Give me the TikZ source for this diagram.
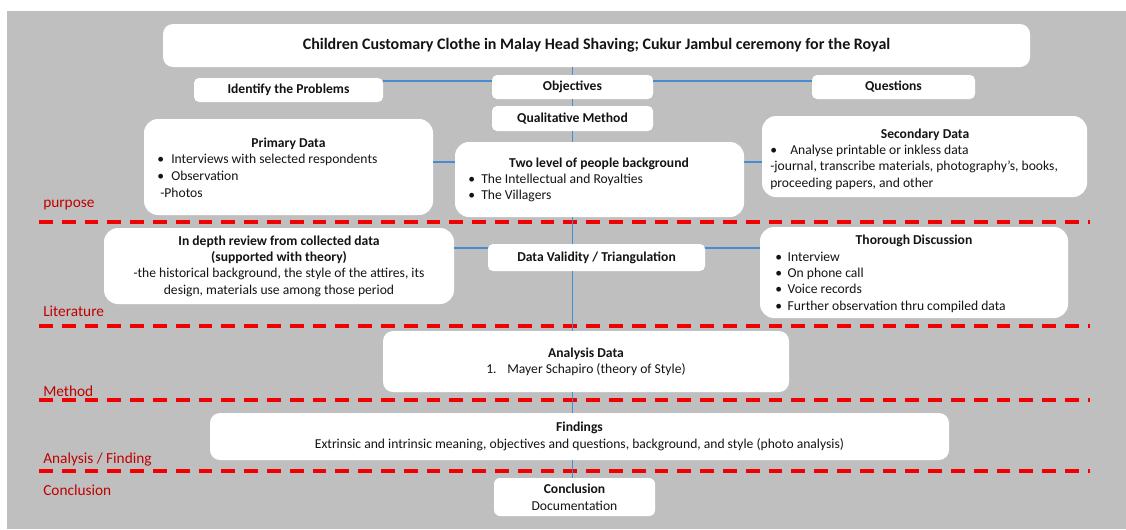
\documentclass[tikz,border=0pt]{standalone}
\usepackage{fontspec}
\setmainfont{Carlito}
\definecolor{bggray}{RGB}{191,191,191}
\definecolor{connblue}{RGB}{70,140,210}
\definecolor{dashred}{RGB}{240,0,0}
\definecolor{labelred}{RGB}{192,0,0}
\definecolor{txtcol}{RGB}{20,20,20}
\newcommand{\bodyfont}{\fontsize{10.2}{12.4}\selectfont}
\newcommand{\bulitem}[2][10.5pt]{\makebox[#1][l]{\textbullet}#2}
\begin{document}
\begin{tikzpicture}[x=0.75pt,y=-0.75pt,font=\bodyfont,text=txtcol,
  sz/.style 2 args={minimum width=#1*0.75pt,minimum height=#2*0.75pt},
  box/.style={fill=white,inner sep=0pt,align=center},
  smallbox/.style={box,rounded corners=3.75pt,font=\bodyfont\bfseries},
  bigbox/.style={box,rounded corners=10.5pt},
  conn/.style={draw=connblue,line width=1.3pt},
  sepline/.style={draw=dashred,line width=3pt,dash pattern=on 10.35pt off 6.75pt},
  lab/.style={text=labelred,font=\fontsize{11.5}{13}\selectfont,anchor=base west,inner sep=0pt},
  ln/.style={anchor=base west,inner sep=0pt},
  hd/.style={anchor=base,inner sep=0pt,font=\bodyfont\bfseries}]
\useasboundingbox (0,0) rectangle (1126,529);
\fill[white] (0,0) rectangle (1126,529);
\fill[bggray] (7,11) rectangle (1126,529);

% separators
\draw[sepline] (39,222) -- (1090,222);
\draw[sepline] (39,326) -- (1090,326);
\draw[sepline] (39,400) -- (1090,400);
\draw[sepline] (39,471) -- (1090,471);

% row labels
\node[lab] (lpurpose) at (43,207.5) {purpose};
\node[lab] (lliter) at (43,316.5) {Literature};
\node[lab] (lmethod) at (43,396) {Method};
\node[lab] (lanalysis) at (43,463) {Analysis / Finding};
\node[lab] (lconcl) at (43,495) {Conclusion};

% boxes
\node[box,rounded corners=7.5pt,sz={867}{43},font=\fontsize{12}{14}\selectfont\bfseries] (title) at (596.5,45.5)
  {Children Customary Clothe in Malay Head Shaving; Cukur Jambul ceremony for the Royal};
\node[smallbox,sz={189}{24}] (ident) at (288.5,90) {Identify the Problems};
\node[smallbox,sz={161}{24}] (obj) at (572.5,87) {Objectives};
\node[smallbox,sz={163}{24}] (quest) at (893.5,87) {Questions};
\node[smallbox,sz={161}{25}] (qual) at (572.5,118.5) {Qualitative Method};
\node[bigbox,sz={289}{96}] (prim) at (288.5,167) {};
\node[bigbox,sz={289}{75}] (two) at (599.5,179.5) {};
\node[bigbox,sz={325}{81}] (sec) at (924.5,156.5) {};
\node[bigbox,sz={350}{76},font=\fontsize{10.2}{12.3}\selectfont] (indepth) at (279,266)
  {\textbf{In depth review from collected data}\\\textbf{(supported with theory)}\\-the historical background, the style of the attires, its\\design, materials use among those period};
\node[smallbox,sz={217}{27}] (dv) at (596.5,257.5) {Data Validity / Triangulation};
\node[bigbox,sz={308}{91}] (thor) at (914,272.5) {};
\node[box,rounded corners=7.5pt,sz={406}{61},font=\fontsize{10.2}{12.2}\selectfont] (ana) at (586,361.5)
  {\textbf{Analysis Data}\\1.\hspace{8pt}Mayer Schapiro (theory of Style)};
\node[box,rounded corners=7.5pt,sz={739}{47},font=\fontsize{10.2}{12.8}\selectfont] (find) at (579.5,436.5)
  {\textbf{Findings}\\Extrinsic and intrinsic meaning, objectives and questions, background, and style (photo analysis)};
\node[box,rounded corners=4.5pt,sz={161}{38},font=\fontsize{10.2}{12.8}\selectfont] (conc) at (574.5,497)
  {\textbf{Conclusion}\\Documentation};

% Primary data text
\node[hd] (primT) at (288.5,147) {Primary Data};
\node[ln] (prim1) at (157,163) {\bulitem{Interviews with selected respondents}};
\node[ln] (prim2) at (157,180) {\bulitem{Observation}};
\node[ln] (prim3) at (160,197) {-Photos};

% Two level text
\node[hd] (twoT) at (599,167) {Two level of people background};
\node[ln] (two1) at (468,183) {\bulitem[9.75pt]{The Intellectual and Royalties}};
\node[ln] (two2) at (468,199) {\bulitem[9.75pt]{The Villagers}};

% Secondary data text
\node[hd] (secT) at (925,138) {Secondary Data};
\node[ln] (sec1) at (770,154) {\bulitem[15pt]{Analyse printable or inkless data}};
\node[ln] (sec2) at (770,170) {-journal, transcribe materials, photography’s, books,};
\node[ln] (sec3) at (770,187) {proceeding papers, and other};

% Thorough discussion text
\node[hd] (thorT) at (914,244) {Thorough Discussion};
\node[ln] (thor1) at (775,261) {\bulitem[9.3pt]{Interview}};
\node[ln] (thor2) at (775,277) {\bulitem[9.3pt]{On phone call}};
\node[ln] (thor3) at (775,293) {\bulitem[9.3pt]{Voice records}};
\node[ln] (thor4) at (775,310) {\bulitem[9.3pt]{Further observation thru compiled data}};

% connectors
\coordinate (hA) at (0,81);
\coordinate (hB) at (0,162);
\coordinate (hC) at (0,248);
\coordinate (vx) at (572.5,0);
\draw[conn] (ident.east |- hA) -- (obj.west |- hA);
\draw[conn] (obj.east |- hA) -- (quest.west |- hA);
\draw[conn] (prim.east |- hB) -- (two.west |- hB);
\draw[conn] (two.east |- hB) -- (sec.west |- hB);
\draw[conn] (indepth.east |- hC) -- (dv.west |- hC);
\draw[conn] (dv.east |- hC) -- (thor.west |- hC);
\draw[conn] (vx |- title.south) -- (vx |- obj.north);
\draw[conn] (vx |- obj.south) -- (vx |- qual.north);
\draw[conn] (vx |- qual.south) -- (vx |- two.north);
\draw[conn] (vx |- two.south) -- (vx |- dv.north);
\draw[conn] (vx |- dv.south) -- (vx |- ana.north);
\draw[conn] (vx |- ana.south) -- (vx |- find.north);
\draw[conn] (vx |- find.south) -- (vx |- conc.north);
\end{tikzpicture}
\end{document}
